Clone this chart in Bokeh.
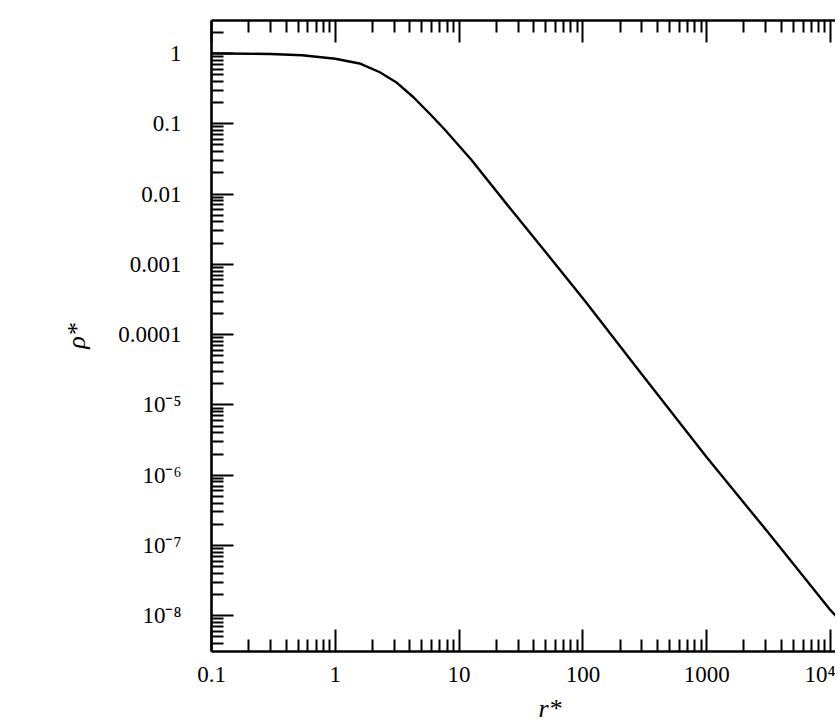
from bokeh.plotting import figure
from bokeh.models import LogAxis, FixedTicker, Range1d, Title
from bokeh.embed import file_html
from bokeh.resources import INLINE

# data
r_star = [0.1, 0.2, 0.3, 0.54, 1.0, 1.57, 2.29, 3.1, 4.28, 5.9, 7.68, 12.5,
          26.5, 49.0, 104.0, 300.0, 1000.0, 3000.0, 10000.0, 12000.0]
rho_star = [1.0, 0.99, 0.98, 0.94, 0.84, 0.72, 0.54, 0.39, 0.238, 0.134, 0.082, 0.031,
            0.0059, 0.00156, 3.0e-4, 2.7e-5, 1.8e-6, 1.68e-7, 1.2e-8, 8.5e-9]

x_ticks = [0.1, 1, 10, 100, 1000, 10000]
x_labels = ["0.1", "1", "10", "100", "1000", "10⁴"]
y_ticks = [1, 0.1, 0.01, 0.001, 0.0001, 1e-5, 1e-6, 1e-7, 1e-8]
y_labels = ["1", "0.1", "0.01", "0.001", "0.0001", "10⁻⁵", "10⁻⁶", "10⁻⁷", "10⁻⁸"]

x_minor = [k * 10.0 ** e for e in range(-1, 5) for k in range(2, 10)]
y_minor = [k * 10.0 ** e for e in range(-9, 1) for k in range(2, 10)]

FONT = "Liberation Serif"

p = figure(x_axis_type="log", y_axis_type="log",
           x_range=Range1d(0.1, 10975), y_range=Range1d(3.1e-9, 2.94),
           frame_width=624, frame_height=631,
           min_border_left=211, min_border_right=0, min_border_top=20, min_border_bottom=66,
           output_backend="svg", toolbar_location=None)
p.grid.visible = False
p.outline_line_color = None
p.background_fill_color = "white"
p.border_fill_color = "white"

p.line(r_star, rho_star, line_color="black", line_width=2.4)

def style_axis(ax):
    ax.axis_line_width = 2.6
    ax.axis_line_color = "black"
    ax.major_tick_in = 22
    ax.major_tick_out = 0
    ax.minor_tick_in = 12
    ax.minor_tick_out = 0
    ax.major_tick_line_width = 2
    ax.minor_tick_line_width = 2
    ax.major_tick_line_color = "black"
    ax.minor_tick_line_color = "black"
    ax.major_label_text_font = FONT
    ax.major_label_text_font_size = "23px"
    ax.major_label_text_color = "black"

xa = p.xaxis[0]
xa.ticker = FixedTicker(ticks=x_ticks, minor_ticks=x_minor)
style_axis(xa)
xa.major_label_overrides = dict(zip(x_ticks, x_labels))
xa.major_label_standoff = 10

ya = p.yaxis[0]
ya.ticker = FixedTicker(ticks=y_ticks, minor_ticks=y_minor)
style_axis(ya)
ya.major_label_overrides = dict(zip(y_ticks, y_labels))
ya.major_label_standoff = 30
ya.axis_label = "ρ*"
ya.axis_label_text_font = FONT
ya.axis_label_text_font_style = "italic"
ya.axis_label_text_font_size = "26px"
ya.axis_label_text_color = "black"
ya.axis_label_standoff = 24

top = LogAxis(ticker=FixedTicker(ticks=x_ticks, minor_ticks=x_minor))
style_axis(top)
top.major_label_text_font_size = "0px"
top.major_label_standoff = 0
top.major_label_overrides = {t: "" for t in x_ticks}
p.add_layout(top, "above")

xlabel = Title(text="r*", align="left", offset=327, text_font=FONT,
               text_font_style="italic", text_font_size="26px", text_color="black",
               standoff=4)
p.add_layout(xlabel, "below")

open("out.html", "w").write(file_html(p, INLINE))
